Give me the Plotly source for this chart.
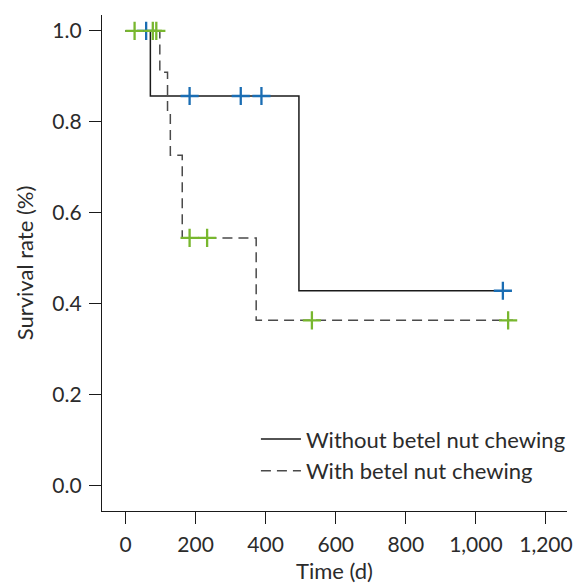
import plotly.graph_objects as go

# Without betel nut chewing (solid step curve)
without_t = [0, 71, 495, 1078]
without_s = [1.0, 0.857, 0.429, 0.429]
without_cens_t = [59, 183, 329, 388, 1077]
without_cens_s = [1.0, 0.857, 0.857, 0.857, 0.429]

# With betel nut chewing (dashed step curve)
with_t = [0, 98, 120, 128, 162, 373, 1106]
with_s = [1.0, 0.909, 0.818, 0.727, 0.545, 0.364, 0.364]
with_cens_t = [26, 78, 88, 183, 233, 532, 1092]
with_cens_s = [1.0, 1.0, 1.0, 0.545, 0.545, 0.364, 0.364]

x_ticks = [0, 200, 400, 600, 800, 1000, 1200]
x_labels = ["0", "200", "400", "600", "800", "1,000", "1,200"]
y_ticks = [0.0, 0.2, 0.4, 0.6, 0.8, 1.0]
y_labels = ["0.0", "0.2", "0.4", "0.6", "0.8", "1.0"]

BLUE = "#1a6db3"
GREEN = "#78b72e"
FONT = "Lato, 'Open Sans', sans-serif"
TXT = "#2b2b2b"

fig = go.Figure()
fig.add_trace(go.Scatter(x=without_t, y=without_s, mode="lines", line_shape="hv",
                         line=dict(color="#1a1a1a", width=1.5),
                         name="Without betel nut chewing"))
fig.add_trace(go.Scatter(x=with_t, y=with_s, mode="lines", line_shape="hv",
                         line=dict(color="#4a4a4a", width=1.5, dash="10px,6px"),
                         name="With betel nut chewing"))
fig.add_trace(go.Scatter(x=without_cens_t, y=without_cens_s, mode="markers",
                         marker=dict(symbol="cross-thin", size=13,
                                     line=dict(color=BLUE, width=2.3)),
                         showlegend=False))
fig.add_trace(go.Scatter(x=with_cens_t, y=with_cens_s, mode="markers",
                         marker=dict(symbol="cross-thin", size=13,
                                     line=dict(color=GREEN, width=2.3)),
                         showlegend=False))

axis_common = dict(showline=True, linecolor="#1a1a1a", linewidth=1.3,
                   ticks="outside", ticklen=12, tickwidth=1.2, tickcolor="#1a1a1a",
                   showgrid=False, zeroline=False, ticklabelstandoff=3,
                   automargin=False,
                   tickfont=dict(family=FONT, size=21, color=TXT))

fig.update_layout(
    width=584, height=585,
    margin=dict(l=102, r=17, t=15, b=74),
    plot_bgcolor="white", paper_bgcolor="white",
    font=dict(family=FONT, size=21, color=TXT),
    xaxis=dict(range=[-67, 1260], tickvals=x_ticks, ticktext=x_labels,
               title=dict(text="Time (d)", font=dict(family=FONT, size=22, color=TXT), standoff=8),
               **axis_common),
    yaxis=dict(range=[-0.055, 1.035], tickvals=y_ticks, ticktext=y_labels,
               title=dict(text="Survival rate (%)", font=dict(family=FONT, size=22, color=TXT), standoff=12),
               **axis_common),
    legend=dict(x=0.331, y=0.187, xanchor="left", yanchor="top",
                bgcolor="rgba(0,0,0,0)", font=dict(family=FONT, size=22, color=TXT),
                tracegroupgap=0, itemwidth=40),
)

fig.write_html("out.html")
